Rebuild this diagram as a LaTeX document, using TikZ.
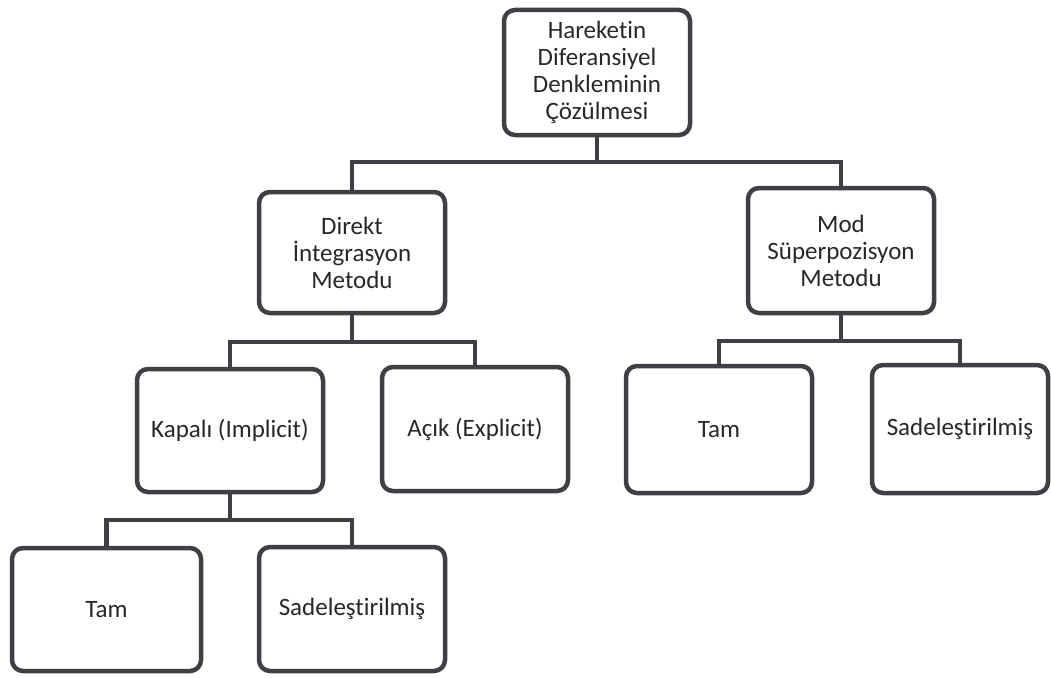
\documentclass[tikz,border=0pt]{standalone}
\usepackage{fontspec}
\setmainfont[Ligatures={NoCommon}]{Carlito}
\definecolor{linegray}{RGB}{62,64,70}
\definecolor{textgray}{RGB}{40,40,44}
\begin{document}
\begin{tikzpicture}[x=1pt,y=-1pt,
  box/.style={draw=linegray, line width=4.5pt, rounded corners=11pt, fill=white,
    align=center, text=textgray, font=\fontsize{25}{27}\selectfont,
    inner sep=0pt, minimum width=186pt, minimum height=124pt},
  link/.style={draw=linegray, line width=4.5pt}]
\useasboundingbox[fill=white] (0,0) rectangle (1051,677);

% tree levels
\node[box, minimum height=125pt] (root) at (597,72.5) {Hareketin\\Diferansiyel\\Denkleminin\\Çözülmesi};
\node[box, minimum height=121pt] (direkt) at (352,252.5) {Direkt\\İntegrasyon\\Metodu};
\node[box, minimum height=125pt] (mod) at (841,250.5) {Mod\\Süperpozisyon\\Metodu};
\node[box, minimum height=123pt] (kapali) at (230,430.5) {Kapalı (Implicit)};
\node[box] (acik) at (475,429) {Açık (Explicit)};
\node[box, minimum width=189pt, minimum height=123pt] (tamA) at (106.5,609.5) {Tam};
\node[box] (sadA) at (352,609) {Sadeleştirilmiş};
\node[box, minimum height=127pt] (tamB) at (719,429.5) {Tam};
\node[box, minimum width=176pt, minimum height=128pt] (sadB) at (960,429) {Sadeleştirilmiş};

% bar heights of the connectors
\coordinate (y1) at (0,162);
\coordinate (y2) at (0,342);
\coordinate (y3) at (0,341);
\coordinate (y4) at (0,520);

% root -> methods
\draw[link] (root.south) -- (root.south |- y1);
\draw[link] (direkt.north) -- (direkt.north |- y1) -- (mod.north |- y1) -- (mod.north);
% direct integration -> implicit / explicit
\draw[link] (direkt.south) -- (direkt.south |- y2);
\draw[link] (kapali.north) -- (kapali.north |- y2) -- (acik.north |- y2) -- (acik.north);
% mode superposition -> full / reduced
\draw[link] (mod.south) -- (mod.south |- y3);
\draw[link] (tamB.north) -- (tamB.north |- y3) -- (sadB.north |- y3) -- (sadB.north);
% implicit -> full / reduced
\draw[link] (kapali.south) -- (kapali.south |- y4);
\draw[link] (tamA.north) -- (tamA.north |- y4) -- (sadA.north |- y4) -- (sadA.north);
\end{tikzpicture}
\end{document}
